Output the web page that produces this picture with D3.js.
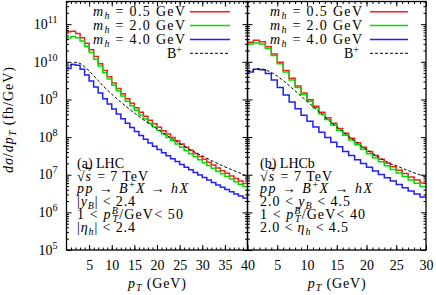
<!DOCTYPE html>
<html>
<head>
<meta charset="utf-8">
<script src="https://cdn.jsdelivr.net/npm/d3@7"></script>
<style>
    body { margin: 0; background: #fff; }
    svg { display: block; font-family: "Liberation Serif", "Times New Roman", serif; }
</style>
</head>
<body>
<svg id="chart" width="436" height="295"></svg>
<script>
// (a) LHC, |y_B| < 2.4 -- 1 GeV bins from 0 to 40
var lhcRed = [6.31e10, 6.46e10, 5.62e10, 4.37e10, 3.09e10, 2.09e10, 1.38e10, 8.91e9, 5.89e9, 3.98e9,
    2.75e9, 1.95e9, 1.41e9, 1.05e9, 7.94e8, 6.03e8, 4.57e8, 3.59e8, 2.82e8, 2.26e8,
    1.82e8, 1.48e8, 1.20e8, 9.77e7, 8.0e7, 6.56e7, 5.40e7, 4.46e7, 3.69e7, 3.07e7,
    2.56e7, 2.14e7, 1.80e7, 1.52e7, 1.28e7, 1.09e7, 9.29e6, 7.94e6, 6.81e6, 5.86e6];
var lhcGreen = [4.27e10, 4.68e10, 4.37e10, 3.55e10, 2.57e10, 1.78e10, 1.17e10, 7.76e9, 5.13e9, 3.47e9,
    2.40e9, 1.70e9, 1.23e9, 8.91e8, 6.76e8, 5.13e8, 3.89e8, 3.02e8, 2.34e8, 1.86e8,
    1.50e8, 1.20e8, 9.77e7, 7.94e7, 6.53e7, 5.37e7, 4.42e7, 3.63e7, 3.02e7, 2.51e7,
    2.09e7, 1.76e7, 1.48e7, 1.24e7, 1.06e7, 9.02e6, 7.67e6, 6.53e6, 5.62e6, 4.84e6];
var lhcBlue = [6.61e9, 8.51e9, 8.13e9, 6.31e9, 4.47e9, 3.09e9, 2.14e9, 1.48e9, 1.05e9, 7.59e8,
    5.56e8, 4.12e8, 3.09e8, 2.34e8, 1.80e8, 1.40e8, 1.10e8, 8.71e7, 7.0e7, 5.69e7,
    4.68e7, 3.85e7, 3.20e7, 2.66e7, 2.24e7, 1.88e7, 1.58e7, 1.35e7, 1.15e7, 9.77e6,
    8.41e6, 7.24e6, 6.24e6, 5.37e6, 4.68e6, 4.07e6, 3.55e6, 3.09e6, 2.72e6, 2.40e6];
// B+ spectrum at pT = 0, 1, ..., 40
var lhcB = [6.31e9, 8.51e9, 9.77e9, 9.12e9, 7.41e9, 5.75e9, 4.27e9, 3.16e9, 2.34e9, 1.78e9,
    1.38e9, 1.07e9, 8.51e8, 6.76e8, 5.37e8, 4.37e8, 3.55e8, 2.88e8, 2.40e8, 2.0e8,
    1.66e8, 1.38e8, 1.15e8, 9.55e7, 8.04e7, 6.76e7, 5.75e7, 4.90e7, 4.22e7, 3.63e7,
    3.16e7, 2.75e7, 2.40e7, 2.09e7, 1.84e7, 1.62e7, 1.45e7, 1.29e7, 1.15e7, 1.02e7, 9.12e6];

// (b) LHCb, 2.0 < y_B < 4.5 -- 1 GeV bins from 0 to 30
var lhcbRed = [3.31e10, 3.72e10, 3.39e10, 2.51e10, 1.62e10, 9.77e9, 5.89e9, 3.63e9, 2.29e9, 1.48e9,
    9.77e8, 6.61e8, 4.57e8, 3.24e8, 2.34e8, 1.70e8, 1.26e8, 9.33e7, 7.08e7, 5.37e7,
    4.17e7, 3.24e7, 2.57e7, 2.04e7, 1.62e7, 1.32e7, 1.07e7, 8.71e6, 7.24e6, 6.03e6];
var lhcbGreen = [2.95e10, 3.16e10, 2.95e10, 2.24e10, 1.48e10, 8.91e9, 5.37e9, 3.31e9, 2.09e9, 1.35e9,
    8.91e8, 6.03e8, 4.17e8, 2.95e8, 2.09e8, 1.51e8, 1.12e8, 8.32e7, 6.24e7, 4.73e7,
    3.63e7, 2.82e7, 2.21e7, 1.74e7, 1.38e7, 1.11e7, 8.91e6, 7.24e6, 5.96e6, 4.90e6];
var lhcbBlue = [5.37e9, 6.31e9, 6.17e9, 4.90e9, 3.31e9, 2.09e9, 1.32e9, 8.51e8, 5.62e8, 3.80e8,
    2.63e8, 1.86e8, 1.35e8, 9.77e7, 7.24e7, 5.50e7, 4.17e7, 3.24e7, 2.51e7, 2.0e7,
    1.58e7, 1.26e7, 1.02e7, 8.32e6, 6.76e6, 5.50e6, 4.52e6, 3.72e6, 3.09e6, 2.57e6];
// B+ spectrum at pT = 0, 1, ..., 30
var lhcbB = [5.25e9, 6.17e9, 6.61e9, 6.17e9, 5.25e9, 4.17e9, 3.16e9, 2.34e9, 1.70e9, 1.23e9,
    8.91e8, 6.46e8, 4.68e8, 3.39e8, 2.51e8, 1.86e8, 1.38e8, 1.05e8, 7.94e7, 6.03e7,
    4.68e7, 3.72e7, 2.95e7, 2.40e7, 1.95e7, 1.74e7, 1.48e7, 1.29e7, 1.12e7, 9.89e6, 8.71e6];

var legendLabels = ['0.5', '2.0', '4.0'];
var seriesColors = ['#ff1a1a', '#00dd00', '#1f1fff'];
var yDecades = [1e5, 1e6, 1e7, 1e8, 1e9, 1e10, 1e11];
var lhcTicks = [5, 10, 15, 20, 25, 30, 35, 40];
var lhcbTicks = [5, 10, 15, 20, 25, 30];

var mTop = 1.5, mBottom = 250, mLeft = 66.5, mMid = 247.5, mRight = 426;
var svg = d3.select('#chart');

var y = d3.scaleLog().domain([1e5, 4e11]).range([mBottom, mTop]);
var minorY = y.ticks().filter(function (v) { return yDecades.indexOf(v) < 0; });

// rich text: parts of {t, i (italic), sub, sup, dx, o (overline)}; w = width to stretch to
function rich(g, x, yy, parts, anchor, w) {
    var t = g.append('text')
        .attr('x', x)
        .attr('y', yy)
        .attr('font-size', 14)
        .attr('text-anchor', anchor || 'start');
    if (w) t.attr('textLength', w).attr('lengthAdjust', 'spacing');
    var shift = 0;
    parts.forEach(function (p) {
        var s = t.append('tspan').text(p.t);
        var want = p.sub ? 3 : p.sup ? -5 : 0;
        if (want !== shift) {
            s.attr('dy', want - shift);
            shift = want;
        }
        if (p.sub || p.sup) s.attr('font-size', 10);
        if (p.i) s.attr('font-style', 'italic');
        if (p.dx) s.attr('dx', p.dx);
        if (p.o) s.attr('text-decoration', 'overline');
    });
    return t;
}

var panels = [
    {
        x: d3.scaleLinear().domain([0, 40]).range([mLeft, mMid]),
        red: lhcRed, green: lhcGreen, blue: lhcBlue, b: lhcB,
        ticks: lhcTicks, textX: 77, legEnd: 185, legLine: [190, 230],
        widths: [0, 71, 111, 58, 106, 58],
        lines: [
            [{t: '(a) LHC'}],
            [{t: '\u221A'}, {t: 's', i: 1, o: 1}, {t: ' = 7 TeV', dx: 1}],
            [{t: 'pp', i: 1}, {t: ' \u2192 '}, {t: 'B', i: 1}, {t: '+', sup: 1}, {t: 'X', i: 1}, {t: ' \u2192 '}, {t: 'hX', i: 1}],
            [{t: '|'}, {t: 'y', i: 1}, {t: 'B', i: 1, sub: 1}, {t: '| < 2.4'}],
            [{t: '1 < '}, {t: 'p', i: 1}, {t: 'B', i: 1, sup: 1}, {t: 'T', i: 1, sub: 1, dx: -6.5}, {t: '/GeV< 50'}],
            [{t: '|'}, {t: '\u03B7', i: 1}, {t: 'h', i: 1, sub: 1}, {t: '| < 2.4'}]
        ]
    },
    {
        x: d3.scaleLinear().domain([0, 30]).range([mMid, mRight]),
        red: lhcbRed, green: lhcbGreen, blue: lhcbBlue, b: lhcbB,
        ticks: lhcbTicks, textX: 260, legEnd: 362, legLine: [370, 408],
        widths: [0, 72, 112, 90, 105, 88],
        lines: [
            [{t: '(b) LHCb'}],
            [{t: '\u221A'}, {t: 's', i: 1, o: 1}, {t: ' = 7 TeV', dx: 1}],
            [{t: 'pp', i: 1}, {t: ' \u2192 '}, {t: 'B', i: 1}, {t: '+', sup: 1}, {t: 'X', i: 1}, {t: ' \u2192 '}, {t: 'hX', i: 1}],
            [{t: '2.0 < '}, {t: 'y', i: 1}, {t: 'B', i: 1, sub: 1}, {t: ' < 4.5'}],
            [{t: '1 < '}, {t: 'p', i: 1}, {t: 'B', i: 1, sup: 1}, {t: 'T', i: 1, sub: 1, dx: -6.5}, {t: '/GeV< 40'}],
            [{t: '2.0 < '}, {t: '\u03B7', i: 1}, {t: 'h', i: 1, sub: 1}, {t: ' < 4.5'}]
        ]
    }
];

panels.forEach(function (p, k) {
    var x = p.x;
    var x0 = x.range()[0], x1 = x.range()[1];
    var g = svg.append('g');

    g.append('clipPath')
        .attr('id', 'clip' + k)
        .append('rect')
        .attr('x', x0).attr('y', mTop)
        .attr('width', x1 - x0).attr('height', mBottom - mTop);

    // y ticks, inward on both sides
    [[x0, d3.axisLeft, -1], [x1, d3.axisRight, 1]].forEach(function (s) {
        var major = g.append('g')
            .attr('transform', 'translate(' + s[0] + ',0)')
            .call(s[1](y).tickValues(yDecades).tickSize(-5).tickPadding(9).tickFormat(''));
        g.append('g')
            .attr('transform', 'translate(' + s[0] + ',0)')
            .call(s[1](y).tickValues(minorY).tickSize(-2.5).tickFormat(''));
        if (k === 0 && s[2] < 0) {
            major.selectAll('.tick text').each(function (d) {
                var t = d3.select(this);
                t.attr('font-size', 14).attr('dy', '0.3em');
                t.append('tspan').text('10');
                t.append('tspan').text(Math.round(Math.log10(d)))
                    .attr('font-size', 10).attr('dy', -6);
            });
        }
    });

    // x ticks, bottom and top
    var xb = g.append('g')
        .attr('transform', 'translate(0,' + mBottom + ')')
        .call(d3.axisBottom(x).tickValues(p.ticks).tickSize(-5).tickPadding(10));
    xb.selectAll('text').attr('font-size', 14);
    g.append('g')
        .attr('transform', 'translate(0,' + mBottom + ')')
        .call(d3.axisBottom(x).tickValues(d3.range(1, x.domain()[1])).tickSize(-2.5).tickFormat(''));
    g.append('g')
        .attr('transform', 'translate(0,' + mTop + ')')
        .call(d3.axisTop(x).tickValues(p.ticks).tickSize(-5).tickFormat(''));
    g.append('g')
        .attr('transform', 'translate(0,' + mTop + ')')
        .call(d3.axisTop(x).tickValues(d3.range(1, x.domain()[1])).tickSize(-2.5).tickFormat(''));

    g.selectAll('.domain').remove();
    g.selectAll('g.tick line').attr('stroke', '#000').attr('stroke-width', 1);
    g.selectAll('g[font-family]').attr('font-family', null);

    // histograms
    var step = d3.line()
        .x(function (d) { return x(d[0]); })
        .y(function (d) { return y(d[1]); })
        .curve(d3.curveStepAfter);
    var plot = g.append('g').attr('clip-path', 'url(#clip' + k + ')');
    [p.red, p.green, p.blue].forEach(function (vals, j) {
        var pts = vals.map(function (v, i) { return [i, v]; });
        pts.push([vals.length, vals[vals.length - 1]]);
        plot.append('path')
            .attr('d', step(pts))
            .attr('fill', 'none')
            .attr('stroke', seriesColors[j])
            .attr('stroke-width', 1.5);
    });
    var smooth = d3.line()
        .x(function (d, i) { return x(i); })
        .y(function (d) { return y(d); });
    plot.append('path')
        .attr('d', smooth(p.b))
        .attr('fill', 'none')
        .attr('stroke', '#000')
        .attr('stroke-width', 1)
        .attr('stroke-dasharray', '3,2');

    // frame
    g.append('rect')
        .attr('x', x0).attr('y', mTop)
        .attr('width', x1 - x0).attr('height', mBottom - mTop)
        .attr('fill', 'none')
        .attr('stroke', '#000')
        .attr('stroke-width', 1.3);

    // legend
    var rows = [11.7, 25.5, 39.5, 53.3];
    legendLabels.forEach(function (lab, j) {
        rich(g, p.legEnd, rows[j] + 4.5, [
            {t: 'm', i: 1}, {t: 'h', i: 1, sub: 1}, {t: ' = ' + lab + ' GeV'}
        ], 'end', 92);
        g.append('line')
            .attr('x1', p.legLine[0]).attr('x2', p.legLine[1])
            .attr('y1', rows[j]).attr('y2', rows[j])
            .attr('stroke', seriesColors[j]).attr('stroke-width', 1.5);
    });
    rich(g, p.legEnd - 3, rows[3] + 4.5, [{t: 'B'}, {t: '+', sup: 1}], 'end');
    g.append('line')
        .attr('x1', p.legLine[0]).attr('x2', p.legLine[1])
        .attr('y1', rows[3]).attr('y2', rows[3])
        .attr('stroke', '#000').attr('stroke-width', 1)
        .attr('stroke-dasharray', '3,2');

    // annotation block
    p.lines.forEach(function (parts, j) {
        rich(g, p.textX, 168 + j * 12.7, parts, 'start', p.widths[j]);
    });

    // x label
    rich(g, (x0 + x1) / 2, 288, [{t: 'p', i: 1}, {t: 'T', i: 1, sub: 1}, {t: ' (GeV)'}], 'middle', 58);
});

// y label
rich(svg.append('g').attr('transform', 'translate(13,120) rotate(-90)'), 0, 0, [
    {t: 'd\u03C3', i: 1}, {t: '/'}, {t: 'dp', i: 1}, {t: 'T', i: 1, sub: 1}, {t: ' (fb/GeV)'}
], 'middle', 106);
</script>
</body>
</html>
